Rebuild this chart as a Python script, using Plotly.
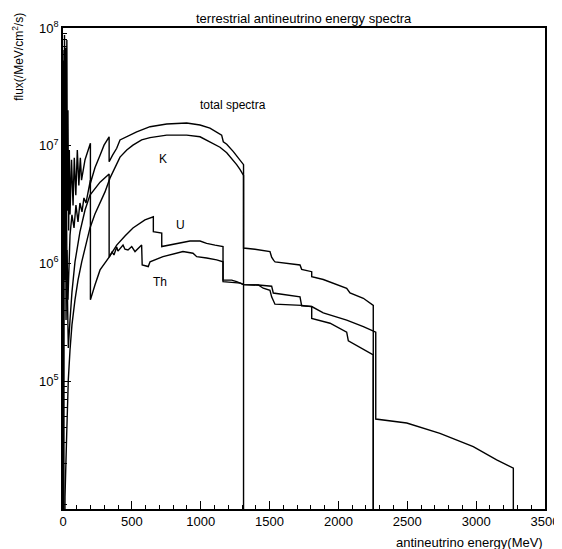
import plotly.graph_objects as go

# ---------------- data (energy as labelled "MeV" on the chart, flux per MeV/cm2/s) ----------------
# a flux of 1 stands for "zero" (below the axis floor)
total_E = [1.5, 3.6, 7.3, 10.9, 14.5, 19, 23, 28, 32, 36, 41, 46, 51, 62, 73, 82, 93, 104, 115, 126,
           134.5, 160, 199, 199, 232, 269, 298, 335, 335, 360, 390, 414, 463, 535, 632, 753, 898, 995, 1067, 1116,
           1152, 1164, 1189, 1237, 1271, 1311, 1311, 1394, 1503, 1515, 1530, 1540, 1721, 1733, 1806, 1806, 1890, 2060, 2084, 2181,
           2253, 2253]
total_flux = [1, 5.3e7, 3.5e6, 8.7e7, 9.2e6, 6.8e7, 5.1e6, 7.9e7, 2.8e6, 2.0e7, 1.9e6, 9.2e6, 2.6e6, 7.6e6, 3.1e6, 7.9e6, 3.8e6, 9.2e6, 4.6e6, 7.9e6,
              5.1e6, 7.6e6, 1.05e7, 4.8e6, 6.5e6, 8.3e6, 1.01e7, 1.19e7, 7.3e6, 8.3e6, 9.5e6, 1.12e7, 1.19e7, 1.31e7, 1.45e7, 1.53e7, 1.56e7, 1.50e7, 1.41e7, 1.31e7,
              1.23e7, 1.08e7, 1.03e7, 8.9e6, 7.9e6, 6.9e6, 1.35e6, 1.32e6, 1.26e6, 1.13e6, 1.06e6, 1.03e6, 9.7e5, 8.9e5, 8.5e5, 7.7e5, 7.3e5, 6.15e5, 5.6e5, 5.05e5,
              4.4e5, 1]

K_E = [5, 14.5, 27, 38.5, 51, 65, 87, 109, 136, 167, 196, 232, 269, 305, 341, 378, 414, 463, 508, 571,
       632, 753, 898, 995, 1089, 1140, 1189, 1225, 1261, 1285, 1311, 1311]
K_flux = [1, 1.04e4, 3.6e4, 1.02e5, 1.84e5, 3.0e5, 4.9e5, 7.2e5, 1.03e6, 1.48e6, 2.0e6, 2.63e6, 3.26e6, 4.05e6, 5.3e6, 6.6e6, 8.0e6, 9.2e6, 1.01e7, 1.12e7,
          1.17e7, 1.23e7, 1.23e7, 1.19e7, 1.05e7, 9.7e6, 8.7e6, 7.8e6, 6.9e6, 6.3e6, 5.6e6, 1]

U_E = [2, 6, 12, 17, 22, 29, 36, 51, 65, 80, 94, 109, 123, 138, 152, 167, 199, 199, 232, 269,
       335, 390, 450, 508, 595, 656, 656, 717, 717, 826, 922, 995, 1043, 1104, 1162, 1162, 1225, 1261, 1311, 1418,
       1515, 1527, 1721, 1733, 1806, 1890, 2060, 2181, 2271, 2271, 2496, 2737, 2979, 3149, 3270, 3270]
U_flux = [1, 3.6e7, 7.2e5, 3.0e7, 3.3e5, 1.3e6, 4.9e5, 1.74e6, 2.58e6, 2.0e6, 3.13e6, 2.25e6, 3.26e6, 2.74e6, 3.6e6, 3.26e6, 5.1e6, 4.9e5, 6.55e5, 8.8e5,
          1.13e6, 1.43e6, 1.71e6, 2.0e6, 2.34e6, 2.49e6, 1.86e6, 1.81e6, 1.39e6, 1.48e6, 1.55e6, 1.55e6, 1.48e6, 1.43e6, 1.39e6, 7.2e5, 7.2e5, 7.0e5, 6.6e5, 6.55e5,
          6.4e5, 5.6e5, 5.2e5, 4.35e5, 4.3e5, 3.8e5, 3.3e5, 2.9e5, 2.6e5, 4.76e4, 4.4e4, 3.6e4, 2.77e4, 2.14e4, 1.82e4, 1]

Th_E = [3, 7.3, 14.5, 20, 28, 33, 38.5, 51, 65, 87, 123, 160, 196, 269, 335, 335, 356, 370, 390, 399,
        436, 450, 472, 499, 523, 571, 575, 619, 632, 726, 871, 944, 971, 1043, 1116, 1162, 1162, 1225, 1290, 1311,
        1418, 1454, 1503, 1515, 1539, 1733, 1806, 1806, 1939, 2060, 2072, 2253, 2253]
Th_flux = [1, 6.5e7, 3.46e6, 4.4e7, 1.07e6, 4.9e5, 1.91e5, 3.3e5, 5.7e5, 1.03e6, 1.85e6, 2.84e6, 3.8e6, 4.9e6, 5.75e6, 1.13e6, 1.25e6, 1.18e6, 1.38e6, 1.27e6,
           1.43e6, 1.32e6, 1.30e6, 1.39e6, 1.26e6, 1.43e6, 9.7e5, 9.4e5, 1.03e6, 1.14e6, 1.26e6, 1.22e6, 1.14e6, 1.11e6, 1.07e6, 1.03e6, 7.0e5, 6.9e5, 6.8e5, 6.6e5,
           6.55e5, 6.15e5, 5.9e5, 5.2e5, 4.5e5, 4.4e5, 4.3e5, 3.4e5, 3.1e5, 2.6e5, 2.2e5, 1.67e5, 1]

x_tickvals = [0, 500, 1000, 1500, 2000, 2500, 3000, 3500]
x_minor_vals = [v for v in range(0, 3501, 100) if v % 500 != 0]
y_tickvals = [1e5, 1e6, 1e7, 1e8]
y_ticktext = ["10<sup>5</sup>", "10<sup>6</sup>", "10<sup>7</sup>", "10<sup>8</sup>"]
y_minor_vals = [m * 10 ** d for d in range(3, 8) for m in range(2, 10) if m * 10 ** d >= 8200]

# labels placed inside the plot (energy, log10 flux)
labels = ["total spectra", "K", "U", "Th"]
label_E = [1234, 726, 855, 704]
label_logflux = [7.346, 6.887, 6.326, 5.845]

FONT = "Liberation Sans"
Y_RANGE = [3.913, 8]

fig = go.Figure()
for xs, ys, name in [(total_E, total_flux, "total"), (K_E, K_flux, "K"),
                     (U_E, U_flux, "U"), (Th_E, Th_flux, "Th")]:
    fig.add_trace(go.Scatter(x=xs, y=ys, mode="lines", name=name,
                             line=dict(color="black", width=1.4), showlegend=False))

# invisible helper trace so the minor-tick overlay axes are drawn
fig.add_trace(go.Scatter(x=[x_tickvals[0]], y=[y_tickvals[0]], xaxis="x2", yaxis="y2",
                         mode="markers", marker=dict(opacity=0), showlegend=False, hoverinfo="skip"))

for t, xe, yl in zip(labels, label_E, label_logflux):
    fig.add_annotation(x=xe, y=yl, text=t, showarrow=False,
                       font=dict(family=FONT, size=12, color="black"))

fig.add_annotation(xref="paper", yref="paper", x=0.5, y=1.0, yshift=10, yanchor="middle",
                   text="terrestrial antineutrino energy spectra", showarrow=False,
                   font=dict(family=FONT, size=13, color="black"))
fig.add_annotation(xref="paper", yref="paper", x=0, xshift=-45, y=0.94, textangle=-90,
                   xanchor="center", yanchor="middle",
                   text="flux(/MeV/cm<sup>2</sup>/s)", showarrow=False,
                   font=dict(family=FONT, size=12, color="black"))
fig.add_annotation(xref="paper", yref="paper", x=1, y=0, yshift=-24, xanchor="right", yanchor="top",
                   text="antineutrino energy(MeV)", showarrow=False,
                   font=dict(family=FONT, size=13, color="black"))

# the page body adds an 8 px offset, so the figure is 8 px smaller than the window
fig.update_layout(
    width=554, height=541,
    margin=dict(l=55, r=17, t=20, b=40),
    paper_bgcolor="white", plot_bgcolor="white",
    font=dict(family=FONT, size=13, color="black"),
    xaxis=dict(range=[0, 3500], tickvals=x_tickvals, ticks="inside", ticklen=8, tickwidth=1,
               tickcolor="black", showgrid=False, zeroline=False, showline=True,
               linecolor="black", linewidth=1.5, mirror=True, automargin=False),
    yaxis=dict(type="log", range=Y_RANGE, tickvals=y_tickvals, ticktext=y_ticktext,
               ticks="inside", ticklen=8, tickwidth=1, tickcolor="black",
               showgrid=False, zeroline=False, showline=True, linecolor="black", linewidth=1.5,
               mirror=True, automargin=False),
    xaxis2=dict(range=[0, 3500], overlaying="x", side="bottom", tickvals=x_minor_vals,
                ticktext=[""] * len(x_minor_vals), ticks="inside", ticklen=4, tickwidth=1,
                tickcolor="black", showgrid=False, zeroline=False, showline=False,
                showticklabels=False, automargin=False),
    yaxis2=dict(type="log", range=Y_RANGE, overlaying="y", side="left", tickvals=y_minor_vals,
                ticks="inside", ticklen=4, tickwidth=1, tickcolor="black",
                showgrid=False, zeroline=False, showline=False, showticklabels=False,
                automargin=False),
)

fig.write_html("out.html")
